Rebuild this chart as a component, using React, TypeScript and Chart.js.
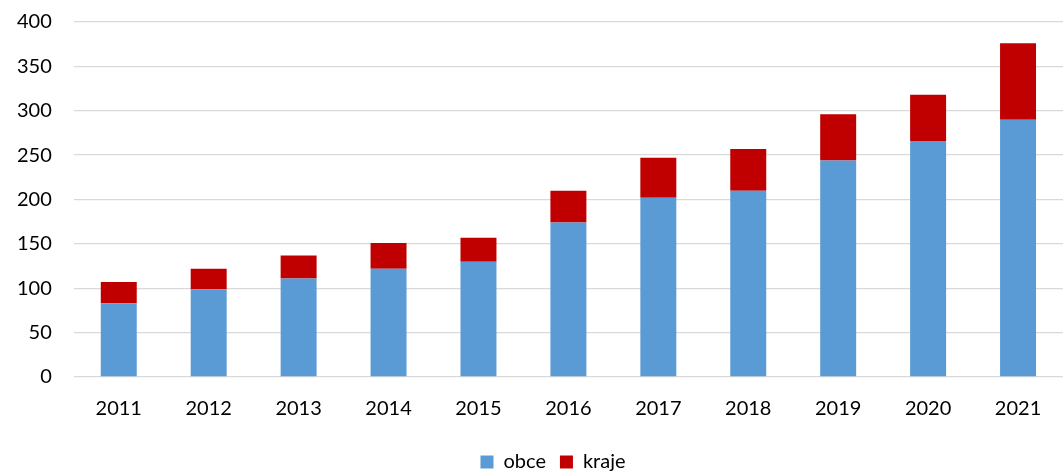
import React, { useEffect, useRef } from "react";
import { Chart, registerables } from "chart.js";

Chart.register(...registerables);

const years = ["2011", "2012", "2013", "2014", "2015", "2016", "2017", "2018", "2019", "2020", "2021"];
const obce = [83, 99, 111, 122, 130, 174, 202, 210, 244, 266, 290];
const kraje = [24, 23, 26, 29, 27, 36, 45, 47, 52, 52, 86];

const FONT = "Lato, 'Open Sans', 'Liberation Sans', sans-serif";

const shiftLegend = {
  id: "shiftLegend",
  afterLayout(chart: any) {
    if (chart.legend) {
      chart.legend.left += 24;
      chart.legend.right += 24;
    }
  },
};

export default function App() {
  const ref = useRef<HTMLCanvasElement | null>(null);
  useEffect(() => {
    document.body.style.margin = "0";
    const chart = new Chart(ref.current!, {
      type: "bar",
      data: {
        labels: years,
        datasets: [
          { label: "obce", data: obce, backgroundColor: "#5b9bd5", categoryPercentage: 1, barPercentage: 0.4 },
          { label: "kraje", data: kraje, backgroundColor: "#c00000", categoryPercentage: 1, barPercentage: 0.4 },
        ],
      },
      plugins: [shiftLegend],
      options: {
        animation: false,
        responsive: false,
        maintainAspectRatio: false,
        layout: { padding: { top: 22, right: 0, left: -5, bottom: -10 } },
        plugins: {
          legend: {
            position: "bottom",
            labels: { boxWidth: 13, boxHeight: 13, color: "#000", font: { family: FONT, size: 20 }, padding: 14 },
          },
          tooltip: { enabled: false },
        },
        scales: {
          x: {
            stacked: true,
            grid: { display: false },
            border: { display: false },
            ticks: { color: "#000", font: { family: FONT, size: 20 }, padding: 12 },
            afterFit: (s: any) => { s.paddingLeft = 0; s.paddingRight = 0; s.height += 5; },
          },
          y: {
            stacked: true,
            min: 0,
            max: 400,
            grid: { color: "#d9d9d9", lineWidth: 1.3, drawTicks: false },
            border: { display: false },
            ticks: { stepSize: 50, color: "#000", font: { family: FONT, size: 20 }, padding: 22 },
            afterFit: (s: any) => { s.paddingTop = 22; s.paddingBottom = 10; },
          },
        },
      },
    });
    return () => chart.destroy();
  }, []);
  return (
    <div style={{ width: 1063, height: 472 }}>
      <canvas ref={ref} width={1063} height={472} style={{ display: "block" }} />
    </div>
  );
}
